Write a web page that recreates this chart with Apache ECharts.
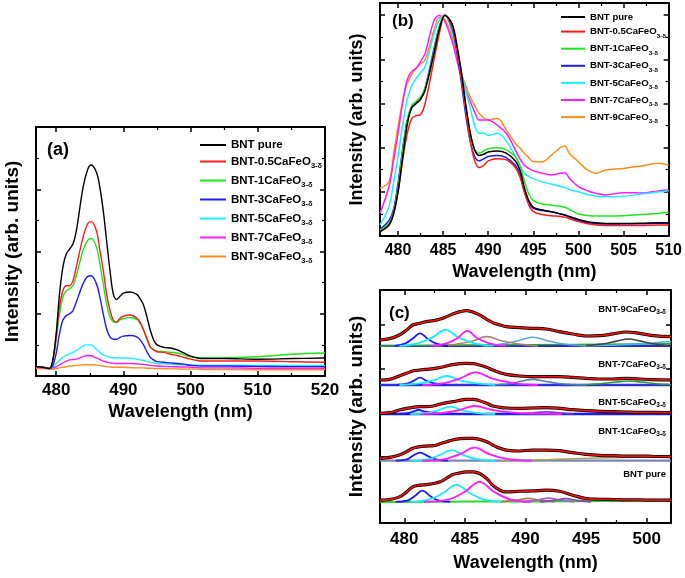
<!DOCTYPE html>
<html><head><meta charset="utf-8">
<script src="https://cdn.jsdelivr.net/npm/echarts@6/dist/echarts.min.js"></script>
<style>html,body{margin:0;padding:0;background:#fff}#c{width:685px;height:578px}</style>
</head><body><div id="c"></div><script>
// ---------- names / colours ----------
const NAMES = ['BNT pure','BNT-0.5CaFeO3-δ','BNT-1CaFeO3-δ','BNT-3CaFeO3-δ','BNT-5CaFeO3-δ','BNT-7CaFeO3-δ','BNT-9CaFeO3-δ'];
const COLORS = ['#000000','#ff1a1a','#1ee61e','#1a1aff','#19f0ff','#ff1aff','#ff8c1a'];

// ---------- panel (a) ----------
const A_WL = [477,478,479,479.5,480,480.5,481,481.5,482,482.5,483,484,484.7,485.2,486,486.5,487,487.5,488,488.5,489,489.5,490,491,492,492.5,493,493.5,494,494.5,495,496,497,498,499,500,501,502,505,510,515,520];
const A_PURE = [0.15,0.14,0.12,0.26,0.68,1.32,1.75,1.96,2.04,2.12,2.33,3.03,3.32,3.39,3.27,3.03,2.66,2.18,1.7,1.32,1.23,1.28,1.33,1.35,1.31,1.24,1.14,0.95,0.74,0.58,0.5,0.46,0.45,0.42,0.37,0.32,0.29,0.28,0.28,0.27,0.28,0.29];
const A_05 = [0.15,0.14,0.12,0.24,0.63,1.11,1.37,1.45,1.45,1.53,1.75,2.23,2.45,2.48,2.33,2.02,1.7,1.32,1.06,0.9,0.87,0.93,0.96,0.98,0.93,0.86,0.74,0.61,0.47,0.42,0.39,0.38,0.35,0.33,0.3,0.27,0.25,0.24,0.24,0.24,0.23,0.22];
const A_1 = [0.15,0.14,0.12,0.24,0.58,1.0,1.27,1.37,1.4,1.45,1.61,2.02,2.18,2.21,2.07,1.8,1.48,1.16,0.95,0.87,0.86,0.9,0.92,0.94,0.91,0.84,0.74,0.58,0.46,0.42,0.4,0.39,0.38,0.37,0.34,0.31,0.3,0.29,0.29,0.31,0.35,0.37];
const A_3 = [0.15,0.14,0.12,0.17,0.36,0.68,0.9,0.97,1.0,1.05,1.19,1.48,1.6,1.61,1.48,1.27,1.0,0.76,0.63,0.59,0.59,0.62,0.64,0.65,0.63,0.58,0.5,0.39,0.3,0.26,0.23,0.22,0.21,0.2,0.19,0.17,0.165,0.16,0.16,0.155,0.15,0.15];
const A_5 = [0.15,0.14,0.12,0.15,0.2,0.25,0.3,0.33,0.36,0.38,0.41,0.48,0.5,0.5,0.43,0.38,0.34,0.32,0.3,0.295,0.29,0.29,0.29,0.285,0.27,0.26,0.25,0.235,0.22,0.21,0.2,0.195,0.19,0.185,0.18,0.18,0.175,0.175,0.175,0.17,0.17,0.17];
const A_7 = [0.14,0.13,0.12,0.13,0.15,0.18,0.21,0.24,0.26,0.265,0.27,0.31,0.33,0.325,0.29,0.265,0.24,0.225,0.21,0.205,0.2,0.2,0.2,0.2,0.195,0.19,0.185,0.18,0.17,0.165,0.16,0.155,0.15,0.148,0.145,0.14,0.135,0.13,0.13,0.125,0.125,0.125];
const A_9 = [0.12,0.12,0.11,0.11,0.12,0.13,0.14,0.15,0.16,0.165,0.17,0.18,0.18,0.18,0.175,0.17,0.16,0.15,0.145,0.14,0.14,0.14,0.14,0.135,0.13,0.13,0.13,0.125,0.125,0.12,0.12,0.12,0.115,0.115,0.11,0.11,0.11,0.105,0.105,0.1,0.1,0.1];

// ---------- panel (b) (normalised) ----------
const B_WL = [478,479,479.5,480,480.5,481,481.5,482,482.5,483,484,484.6,485.2,486,486.5,487,487.5,488,488.5,489,489.5,490,491,492,493,493.5,494,494.5,495,496,497,498,498.5,499,500,501,502,503,505,507,509,510];
const B_PURE = [0.02,0.05,0.1,0.2,0.35,0.5,0.58,0.6,0.62,0.66,0.83,0.94,1.0,0.96,0.87,0.75,0.6,0.47,0.39,0.365,0.37,0.38,0.385,0.375,0.34,0.3,0.22,0.16,0.13,0.118,0.11,0.1,0.095,0.088,0.075,0.065,0.06,0.057,0.057,0.058,0.06,0.06];
const B_05 = [0.02,0.05,0.1,0.2,0.34,0.46,0.53,0.545,0.55,0.6,0.8,0.92,1.0,0.95,0.85,0.72,0.57,0.43,0.34,0.31,0.32,0.34,0.35,0.345,0.31,0.27,0.2,0.14,0.11,0.097,0.092,0.088,0.085,0.078,0.065,0.055,0.05,0.048,0.047,0.048,0.05,0.05];
const B_1 = [0.025,0.06,0.11,0.22,0.38,0.52,0.59,0.61,0.63,0.67,0.84,0.95,1.0,0.95,0.86,0.73,0.58,0.46,0.39,0.375,0.385,0.395,0.4,0.39,0.36,0.32,0.25,0.19,0.16,0.145,0.14,0.135,0.13,0.12,0.1,0.093,0.09,0.09,0.092,0.097,0.103,0.107];
const B_3 = [0.03,0.07,0.12,0.24,0.39,0.52,0.58,0.6,0.62,0.67,0.85,0.95,1.0,0.94,0.84,0.7,0.55,0.43,0.36,0.34,0.35,0.36,0.365,0.355,0.32,0.28,0.2,0.15,0.125,0.115,0.11,0.1,0.095,0.085,0.07,0.06,0.055,0.054,0.055,0.056,0.058,0.058];
const B_5 = [0.05,0.133,0.24,0.36,0.5,0.615,0.68,0.713,0.74,0.766,0.917,0.98,1.0,0.92,0.84,0.74,0.66,0.58,0.5,0.465,0.465,0.455,0.465,0.43,0.36,0.32,0.284,0.27,0.26,0.245,0.235,0.225,0.22,0.21,0.2,0.188,0.18,0.178,0.18,0.19,0.2,0.205];
const B_7 = [0.103,0.224,0.34,0.465,0.6,0.706,0.745,0.759,0.79,0.827,0.977,1.0,0.97,0.88,0.8,0.72,0.66,0.61,0.56,0.525,0.525,0.525,0.502,0.465,0.39,0.35,0.32,0.306,0.295,0.284,0.276,0.284,0.286,0.261,0.224,0.205,0.193,0.186,0.196,0.195,0.205,0.208];
const B_9 = [0.216,0.246,0.37,0.495,0.61,0.69,0.73,0.76,0.78,0.797,0.932,0.99,0.98,0.9,0.82,0.74,0.68,0.63,0.59,0.555,0.535,0.525,0.533,0.48,0.42,0.4,0.374,0.355,0.336,0.336,0.366,0.4,0.407,0.374,0.336,0.299,0.284,0.299,0.306,0.317,0.329,0.321];

// ---------- panel (c) deconvolution (heights above each spectrum's baseline) ----------
const C_WL = [478,478.8,479.6,480.2,480.7,481.3,481.8,482.4,482.9,483.5,484.0,484.6,485.1,485.7,486.2,486.8,487.3,487.9,488.4,489.5,490.6,491.7,492.8,493.9,495.0,496.1,497.2,498.3,499.4,500.5,502];
const C_OFFSETS = [-0.2, 9.16, 19.77, 26.36, 35.23]; // pure, 1, 5, 7, 9
const C_PURE_FIT = [0.38,0.53,1.14,2.27,3.41,3.79,3.94,4.17,4.5,5.4,6.2,6.6,6.82,6.82,6.44,5.3,3.79,2.65,2.27,2.42,2.5,2.65,2.42,1.52,0.76,0.6,0.53,0.45,0.45,0.38,0.38];
const C_1_FIT = [0.53,0.76,1.29,2.05,2.8,3.18,3.33,3.41,3.79,4.32,4.7,5.0,5.08,5.08,4.85,4.32,3.56,2.8,2.42,2.2,2.42,2.42,2.27,1.82,1.44,1.21,1.14,1.06,1.06,0.98,0.91];
const C_5_FIT = [0.15,0.3,0.91,1.29,1.52,1.67,1.67,1.82,2.2,2.58,2.8,3.1,3.33,3.33,3.03,2.42,1.82,1.52,1.36,1.29,1.36,1.44,1.29,0.98,0.76,0.61,0.53,0.45,0.38,0.38,0.3];
const C_7_FIT = [1.14,1.29,2.05,2.65,3.18,3.41,3.56,3.71,3.94,4.32,4.62,4.85,4.92,4.85,4.55,4.02,3.41,2.8,2.42,2.05,1.89,1.89,1.89,1.74,1.52,1.36,1.36,1.52,1.36,1.21,1.14];
const C_9_FIT = [1.36,1.67,2.5,3.64,4.77,5.15,5.53,5.76,6.06,6.67,7.27,7.8,8.03,7.65,7.05,6.06,5.3,4.77,4.39,4.17,4.02,3.86,3.26,2.73,2.27,2.35,2.73,3.18,2.88,2.35,2.12];

// component peaks, [wavelength, height]
const C_PURE_BLUE = [[479.3,0],[480.3,0.35],[480.9,1.4],[481.5,2.57],[482.1,1.4],[482.8,0.35],[483.8,0]];
const C_PURE_CYAN = [[480.6,0],[482,0.5],[483.2,2.0],[484.3,3.85],[485.4,2.0],[486.6,0.5],[488,0]];
const C_PURE_MAG = [[481.6,0],[483.6,0.5],[485,2.3],[486.2,4.55],[487.4,2.3],[488.8,0.5],[490.5,0]];
const C_PURE_BROWN = [[488,0],[489.3,0.4],[490.2,0.8],[491.1,0.4],[492.4,0]];
const C_PURE_PURPLE = [[489.8,0],[491,0.4],[491.9,0.85],[492.8,0.4],[494,0]];
const C_PURE_VIOLET = [[491.2,0],[492.4,0.35],[493.3,0.75],[494.2,0.35],[495.4,0]];
const C_PURE_GREEN = [[478,0],[490,0.1],[502,0.3]];

const C_1_BLUE = [[479.3,0],[480.2,0.3],[480.7,1.1],[481.3,1.82],[481.9,1.1],[482.6,0.3],[483.6,0]];
const C_1_CYAN = [[480.5,0],[481.9,0.3],[482.9,1.25],[483.9,2.42],[484.9,1.25],[486.1,0.3],[487.5,0]];
const C_1_MAG = [[481.5,0],[483.3,0.35],[484.6,1.5],[485.8,2.95],[487,1.5],[488.6,0.35],[490.5,0]];
const C_1_KHAKI = [[488,0],[492,0.25],[496,0.6],[502,0.95]];
const C_1_BASE = [[478,0],[502,0]];

const C_5_BLUE = [[479.4,0],[480.3,0.2],[480.7,0.55],[481.2,0.91],[481.7,0.55],[482.4,0.2],[483.3,0]];
const C_5_CYAN = [[480.5,0],[481.8,0.2],[482.8,0.85],[483.8,1.67],[484.8,0.85],[486,0.2],[487.5,0]];
const C_5_MAG = [[481.5,0],[483.2,0.25],[484.6,0.95],[485.8,1.82],[487.2,0.95],[489,0.3],[491,0.08],[493,0]];
const C_5_PURPLE = [[489.5,0],[490.7,0.25],[491.7,0.5],[492.7,0.25],[494,0]];
const C_5_BASE = [[478,0],[502,0]];

const C_7_BLUE = [[479.4,0],[480.3,0.35],[480.8,1.0],[481.3,1.67],[481.8,1.0],[482.5,0.35],[483.4,0]];
const C_7_CYAN = [[479.6,0],[481.2,0.35],[482.4,1.05],[483.5,2.05],[484.6,1.05],[486,0.35],[487.5,0]];
const C_7_MAG = [[481.5,0],[483.3,0.45],[484.6,1.5],[485.9,2.88],[487.2,1.5],[489,0.45],[491,0]];
const C_7_STEEL = [[487.3,0],[488.8,0.35],[489.7,0.9],[490.6,1.29],[491.5,0.9],[492.7,0.35],[495,0]];
const C_7_GREEN = [[494,0],[496.2,0.3],[497.5,0.7],[498.5,0.9],[499.5,0.7],[500.8,0.3],[502,0.1]];
const C_7_BASE = [[478,0],[502,0]];

const C_9_BLUE = [[479.2,0],[480.1,0.6],[480.7,1.7],[481.3,2.88],[481.9,1.7],[482.6,0.6],[483.6,0]];
const C_9_CYAN = [[479.6,0],[481.1,0.6],[482.3,1.9],[483.4,3.64],[484.5,1.9],[485.8,0.6],[487.3,0]];
const C_9_MAG = [[482.2,0],[483.5,0.6],[484.4,1.8],[485.2,3.41],[486,1.8],[487,0.6],[488.4,0]];
const C_9_ROSY = [[482.5,0],[484.5,0.5],[485.7,1.2],[486.8,2.12],[488,1.2],[489.3,0.5],[491,0]];
const C_9_STEEL = [[486.5,0],[488.2,0.5],[489.4,1.2],[490.6,1.97],[491.8,1.2],[493,0.5],[495,0]];
const C_9_DARK = [[494.5,0],[496.5,0.5],[497.5,1.1],[498.5,1.59],[499.5,1.1],[500.5,0.5],[502,0.1]];
const C_9_LIGHT = [[495,0],[499,0.4],[502,1.0]];
const C_9_GREEN = [[478,0],[490,0.3],[502,0.5]];
const C_9_BASE = [[478,0],[502,0]];

const C_LABELS = ['BNT pure','BNT-1CaFeO3-δ','BNT-5CaFeO3-δ','BNT-7CaFeO3-δ','BNT-9CaFeO3-δ'];

// ---------- build ----------
const FONT = '"Liberation Sans", Arial, sans-serif';
const series = [];
const A_VALUES = [A_PURE,A_05,A_1,A_3,A_5,A_7,A_9];
const B_VALUES = [B_PURE,B_05,B_1,B_3,B_5,B_7,B_9];
NAMES.forEach((n,i)=>{
  series.push({type:'line',name:n,xAxisIndex:0,yAxisIndex:0,symbol:'none',smooth:0.35,
    data:A_WL.map((x,j)=>[x,A_VALUES[i][j]]),lineStyle:{color:COLORS[i],width:1.4},itemStyle:{color:COLORS[i]},z:10-i});
});
NAMES.forEach((n,i)=>{
  series.push({type:'line',name:n,xAxisIndex:2,yAxisIndex:2,symbol:'none',smooth:0.35,
    data:B_WL.map((x,j)=>[x,B_VALUES[i][j]]),lineStyle:{color:COLORS[i],width:1.5},itemStyle:{color:COLORS[i]},z:10-i});
});
function cLine(id, pts, off, color, width, z){
  series.push({type:'line',name:id,xAxisIndex:4,yAxisIndex:4,symbol:'none',smooth:0.4,silent:true,
    data:pts.map(p=>[p[0],p[1]+off]),lineStyle:{color:color,width:width},z:z||3});
}
const C_FITS = [C_PURE_FIT,C_1_FIT,C_5_FIT,C_7_FIT,C_9_FIT];
const C_COMPS = [
  [[C_PURE_GREEN,'#22dd22',2],[C_PURE_BROWN,'#b07a50',1.6],[C_PURE_PURPLE,'#9966cc',1.6],[C_PURE_VIOLET,'#8844aa',1.6],[C_PURE_BLUE,'#1a1aff',1.8],[C_PURE_CYAN,'#19e8ff',1.8],[C_PURE_MAG,'#ff1aff',1.8]],
  [[C_1_BASE,'#7b86b8',2.2],[C_1_KHAKI,'#a8a060',1.6],[C_1_BLUE,'#1a1aff',1.8],[C_1_CYAN,'#19e8ff',1.8],[C_1_MAG,'#ff1aff',1.8]],
  [[C_5_BASE,'#1a1aff',2.6],[C_5_PURPLE,'#6a3ad0',1.6],[C_5_BLUE,'#1a1aff',1.8],[C_5_CYAN,'#19e8ff',1.8],[C_5_MAG,'#ff1aff',1.8]],
  [[C_7_BASE,'#3030e0',2.6],[C_7_GREEN,'#2e9a2e',1.6],[C_7_STEEL,'#4a7fb8',1.6],[C_7_BLUE,'#1a1aff',1.8],[C_7_CYAN,'#19e8ff',1.8],[C_7_MAG,'#ff1aff',1.8]],
  [[C_9_BASE,'#2a2ad8',2.2],[C_9_GREEN,'#2ea02e',1.4],[C_9_LIGHT,'#40b8e0',1.6],[C_9_DARK,'#444444',1.6],[C_9_STEEL,'#5aa8d8',1.6],[C_9_ROSY,'#b08070',1.6],[C_9_BLUE,'#1a1aff',1.8],[C_9_CYAN,'#19e8ff',1.8],[C_9_MAG,'#ff1aff',1.8]]
];
C_FITS.forEach((fit,g)=>{
  const off = C_OFFSETS[g];
  C_COMPS[g].forEach((c,k)=>cLine('c'+g+'_'+k,c[0],off,c[1],c[2],3));
  const pts = C_WL.map((x,j)=>[x,fit[j]]);
  cLine('c'+g+'_data',pts,off,'#000000',3.2,5);
  cLine('c'+g+'_fit',pts,off,'#ee1111',1.7,6);
});

function richName(n){
  if(n.endsWith('3-δ')) return '{n|'+n.slice(0,-3)+'}{s|3-δ}';
  return '{n|'+n+'}';
}
function richStyle(fs, ss, lh){
  return {n:{fontFamily:FONT,fontWeight:'bold',fontSize:fs,color:'#000',lineHeight:lh},
          s:{fontFamily:FONT,fontWeight:'bold',fontSize:ss,color:'#000',verticalAlign:'bottom'}};
}

function xAx(grid, min, max, top, labelSize, margin, name, nameGap, mod){
  return {type:'value',gridIndex:grid,min:min,max:max,position:top?'top':'bottom',
    axisLine:{show:true,onZero:false,lineStyle:{color:'#000',width:2}},
    axisTick:{show:true,inside:true,length:5,lineStyle:{color:'#000',width:1.5}},
    minorTick:{show:true,splitNumber:2,length:3,lineStyle:{color:'#000',width:1.2}},
    splitLine:{show:false},
    axisLabel:{show:!top,margin:margin,fontFamily:FONT,fontWeight:'bold',fontSize:labelSize,color:'#000',
      formatter:v=>(Math.abs(v%mod)<1e-9?String(v):'')},
    name:top?'':name,nameLocation:'middle',nameGap:nameGap,
    nameTextStyle:{fontFamily:FONT,fontWeight:'bold',fontSize:18,color:'#000'}};
}
function yAx(grid, min, max, right, interval, name, nameGap, nameSize, minor){
  const o = {type:'value',gridIndex:grid,min:min,max:max,position:right?'right':'left',
    axisLine:{show:true,onZero:false,lineStyle:{color:'#000',width:2}},
    axisTick:{show:true,inside:true,length:5,lineStyle:{color:'#000',width:1.5}},
    minorTick:{show:minor,splitNumber:2,length:3,lineStyle:{color:'#000',width:1.2}},
    splitLine:{show:false},axisLabel:{show:false},
    name:right?'':name,nameLocation:'middle',nameGap:nameGap,
    nameTextStyle:{fontFamily:FONT,fontWeight:'bold',fontSize:nameSize,color:'#000'}};
  if(interval) o.interval = interval;
  return o;
}

const option = {
  animation:false,
  backgroundColor:'#ffffff',
  grid:[
    {left:36,top:127,width:289,height:249},
    {left:380,top:3,width:290,height:233},
    {left:380,top:290,width:291,height:233}
  ],
  xAxis:[
    xAx(0,477,520,false,17,6,'Wavelength (nm)',27,10),
    xAx(0,477,520,true,17,6,'',27,10),
    xAx(1,478,510,false,16,7,'Wavelength (nm)',27,5),
    xAx(1,478,510,true,16,7,'',27,5),
    xAx(2,478,502,false,17,8,'Wavelength (nm)',31,5),
    xAx(2,478,502,true,17,8,'',31,5)
  ],
  yAxis:[
    yAx(0,0,4,false,1,'Intensity (arb. units)',14,19,true),
    yAx(0,0,4,true,1,'',14,19,true),
    yAx(1,0,1.055,false,0.2,'Intensity (arb. units)',14,18,true),
    yAx(1,0,1.055,true,0.2,'',14,18,true),
    yAx(2,-5,47.95,false,null,'Intensity (arb. units)',14,19,false),
    yAx(2,-5,47.95,true,null,'',14,19,false)
  ],
  legend:[
    {data:NAMES,orient:'vertical',left:195,top:134,itemGap:4.5,itemWidth:26,itemHeight:2,icon:'rect',
     formatter:richName,textStyle:{rich:richStyle(11.5,7.5,17)},selectedMode:false},
    {data:NAMES,orient:'vertical',left:556,top:7,itemGap:4.6,itemWidth:24,itemHeight:2,icon:'rect',itemGap:4.6,
     formatter:richName,textStyle:{rich:richStyle(9.6,6.2,15)},selectedMode:false}
  ],
  graphic:[
    {type:'text',left:47,top:141,style:{text:'(a)',font:'bold 18px '+FONT,fill:'#000'}},
    {type:'text',left:392,top:13,style:{text:'(b)',font:'bold 17px '+FONT,fill:'#000'}},
    {type:'text',left:389,top:305,style:{text:'(c)',font:'bold 17px '+FONT,fill:'#000'}}
  ].concat([474,431,402,364,309].map((y,i)=>({
    type:'text',x:666,y:y,
    style:{text:richName(C_LABELS[i]),align:'right',verticalAlign:'middle',
      rich:richStyle(9.5,6.5,13),fill:'#000'}
  }))),
  series:series
};
const chart = echarts.init(document.getElementById('c'),null,{renderer:'canvas'});
chart.setOption(option);
</script></body></html>
